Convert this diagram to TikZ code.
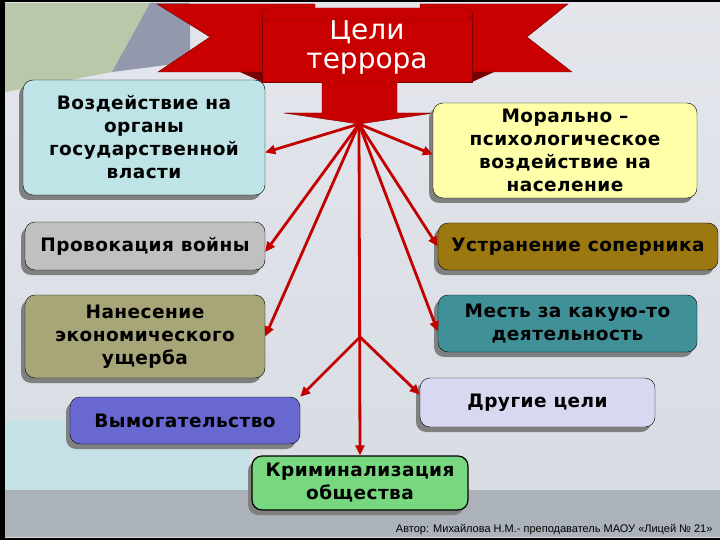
\documentclass[tikz,border=0pt]{standalone}
\usepackage{fontspec}
\setmainfont{DejaVu Sans}
\newfontfamily\boxfont[LetterSpace=2.5]{DejaVu Sans}
\newfontfamily\footfont{Liberation Sans}
\usepackage{tikz}
\usetikzlibrary{arrows.meta, shadows}
\usepackage{xcolor}
\definecolor{bannerred}{RGB}{200, 0, 0}
\definecolor{bannerdark}{RGB}{120, 0, 0}
\definecolor{arrowred}{RGB}{195, 0, 0}
\definecolor{slidetop}{RGB}{228, 230, 236}
\definecolor{slidebot}{RGB}{214, 220, 226}
\definecolor{slidegreen}{RGB}{186, 200, 170}
\definecolor{slidewedge}{RGB}{148, 152, 172}
\definecolor{slidecyan}{RGB}{196, 226, 230}
\definecolor{slideband}{RGB}{172, 178, 186}
\definecolor{vozdcol}{RGB}{190, 228, 232}
\definecolor{provcol}{RGB}{192, 192, 192}
\definecolor{nanescol}{RGB}{168, 166, 120}
\definecolor{vymogcol}{RGB}{104, 104, 208}
\definecolor{krimcol}{RGB}{120, 216, 128}
\definecolor{drugcol}{RGB}{216, 216, 240}
\definecolor{mestcol}{RGB}{64, 144, 152}
\definecolor{ustrcol}{RGB}{156, 120, 16}
\definecolor{moralcol}{RGB}{255, 255, 170}

\begin{document}
\begin{tikzpicture}[x=1pt, y=-1pt,
				box/.style={draw=black, thin, rounded corners=10pt, align=center,
					inner sep=2pt, font=\boxfont\bfseries\fontsize{18.5}{23}\selectfont,
					drop shadow={shadow xshift=-4pt, shadow yshift=-5pt,
						fill=black!50, opacity=1}},
				titlebox/.style={draw=bannerdark, fill=bannerred, text=white,
					minimum width=210pt, minimum height=70pt, align=center,
					font=\fontsize{28}{29}\selectfont},
				arr/.style={-{Triangle[length=10pt, width=9pt]}, line width=2.8pt, arrowred}
				]
				% slide background
				\fill[black] (0,0) rectangle (720,540);
				\shade[top color=slidetop, bottom color=slidebot] (5,3) rectangle (720,537);
				\fill[slidegreen] (5,3) -- (150,3) -- (112,72) -- (5,92) -- cycle;
				\fill[slidewedge] (150,3) -- (190,3) -- (190,62) -- (112,72) -- cycle;
				\fill[slidecyan] (5,420) rectangle (250,490);
				\fill[slideband] (5,490) rectangle (720,537);
				% banner
				\filldraw[fill=bannerred, draw=bannerdark] (157,4) -- (315,4) -- (315,72) -- (158,72) -- (210,37) -- cycle;
				\filldraw[fill=bannerred, draw=bannerdark] (568,4) -- (420,4) -- (420,72) -- (572,72) -- (527,37) -- cycle;
				\fill[bannerdark] (240,72) -- (262,72) -- (262,82) -- cycle;
				\fill[bannerdark] (472,72) -- (494,72) -- (472,82) -- cycle;
				\node[titlebox] (title) at (367,47) {Цели\\террора};
				\filldraw[fill=bannerred, draw=bannerdark, rounded corners=4pt] (262,8) rectangle (472,20);
				\filldraw[fill=bannerred, draw=bannerdark] (322,82) -- (397,82) -- (397,113) -- (434,113)
					-- (359,124) -- (284,113) -- (322,113) -- cycle;
				\coordinate (hub) at (359,124);
				\coordinate (fork) at (360,337);
				% goals
				\node[box, fill=vozdcol, minimum width=242pt, minimum height=115pt] (vozd) at (144,137.5)
					{Воздействие на\\органы\\государственной\\власти};
				\node[box, fill=provcol, minimum width=240pt, minimum height=48pt] (prov) at (145,246)
					{Провокация войны};
				\node[box, fill=nanescol, minimum width=240pt, minimum height=83pt] (nanes) at (145,336.5)
					{Нанесение\\экономического\\ущерба};
				\node[box, fill=vymogcol, minimum width=230pt, minimum height=47pt] (vymog) at (185,420.5)
					{Вымогательство};
				\node[box, fill=krimcol, line width=1.2pt, minimum width=216pt, minimum height=54pt] (krim) at (360,483)
					{Криминализация\\общества};
				\node[box, fill=drugcol, minimum width=235pt, minimum height=49pt] (drug) at (537.5,402.5)
					{Другие цели};
				\node[box, fill=mestcol, minimum width=259pt, minimum height=57pt] (mest) at (567.5,323.5)
					{Месть за какую-то\\деятельность};
				\node[box, fill=ustrcol, minimum width=280pt, minimum height=47pt] (ustr) at (578,246.5)
					{Устранение соперника};
				\node[box, fill=moralcol, minimum width=264pt, minimum height=95pt] (moral) at (565,150.5)
					{Морально –\\психологическое\\воздействие на\\население};
				\draw[arr] (hub) -- ([yshift=-15pt]vozd.east);
				\draw[arr] (hub) -- ([yshift=-6pt]prov.east);
				\draw[arr] (hub) -- (nanes.east);
				\draw[arr] (hub) -- (krim.north);
				\draw[arr] (hub) -- ([yshift=-4pt]moral.west);
				\draw[arr] (hub) -- (ustr.west);
				\draw[arr] (hub) -- ([yshift=-8pt]mest.west);
				\draw[arr] (fork) -- (vymog.north east);
				\draw[arr] (fork) -- ([yshift=8pt]drug.west);
				\node[font=\footfont\fontsize{11}{13}\selectfont, anchor=east] (author) at (716,530)
					{Автор: Михайлова Н.М.- преподаватель МАОУ «Лицей № 21»};
			\end{tikzpicture}
\end{document}
